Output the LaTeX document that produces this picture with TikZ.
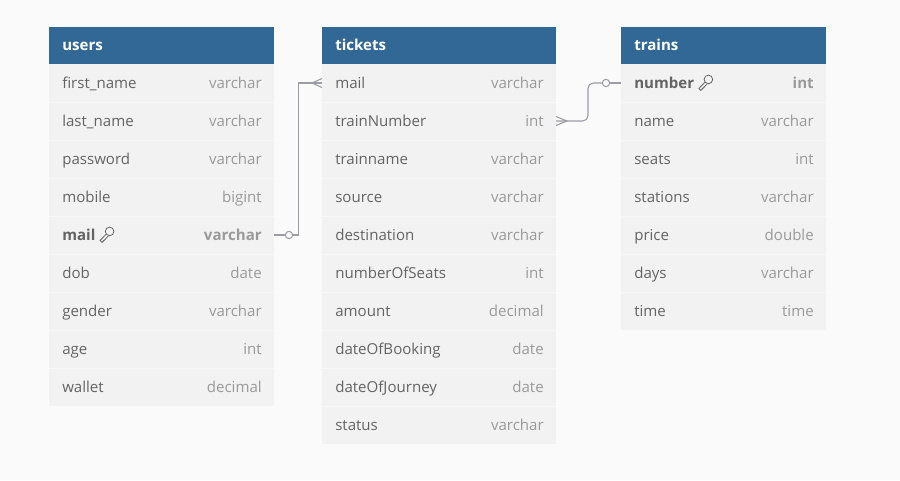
\documentclass[tikz,border=0pt]{standalone}
\usepackage{fontspec}
\setmainfont{Open Sans}
\usepackage{xcolor}
\usetikzlibrary{positioning}
\definecolor{hdrblue}{HTML}{326895}
\definecolor{rowgray}{HTML}{F2F2F2}
\definecolor{rowline}{HTML}{F7F7F7}
\definecolor{canvas}{HTML}{FAFAFA}
\definecolor{namegray}{HTML}{646464}
\definecolor{typegray}{HTML}{9A9A9A}
\definecolor{linegray}{HTML}{9C9CA4}

\tikzset{
  hdr/.style={anchor=mid west, inner sep=0, text=white, font=\fontsize{11.3}{13}\selectfont\bfseries},
  fld/.style={anchor=mid west, inner sep=0, text=namegray, font=\fontsize{11.3}{13}\selectfont},
  typ/.style={anchor=mid east, inner sep=0, text=typegray, font=\fontsize{11.3}{13}\selectfont},
  rel/.style={draw=linegray, line width=0.8pt},
  endpt/.style={circle, draw=linegray, fill=canvas, line width=0.8pt, inner sep=0, minimum size=5.5pt},
  keyglyph/.pic={
    \draw[namegray, line width=0.6pt] (14,-3.5) circle (4.3);
    \draw[namegray, line width=0.6pt] (10.6,-0.8) -- (4.5,5.5) -- (6.5,7.5) -- (8.2,5.8) -- (7.6,5.2)
        (8.2,5.8) -- (12.6,1.1);
  }
}

\begin{document}
\begin{tikzpicture}[x=0.75pt,y=-0.75pt]
    % Canvas
    \fill[canvas] (0,0) rectangle (900,480);
    \useasboundingbox (0,0) rectangle (900,480);

    % Table users
    \fill[rowgray] (49,64) rectangle (274,406);
    \fill[hdrblue] (49,27) rectangle (274,64);
    \node[hdr] (users) at (62,46.5) {users};
    \foreach \n/\t [count=\i] in {first\_name/varchar, last\_name/varchar, password/varchar,
        mobile/bigint, \textbf{mail}/\textbf{varchar}, dob/date, gender/varchar, age/int, wallet/decimal} {
        \node[fld] (users-\i) at (62,47+38*\i) {\n};
        \node[typ] (users-\i-t) at (262,47+38*\i) {\t};
        \ifnum\i>1 \draw[rowline] (49,26+38*\i) -- (274,26+38*\i); \fi
    }
    \pic at (users-5.east) {keyglyph};

    % Table tickets
    \fill[rowgray] (322,64) rectangle (556,444);
    \fill[hdrblue] (322,27) rectangle (556,64);
    \node[hdr] (tickets) at (335,46.5) {tickets};
    \foreach \n/\t [count=\i] in {mail/varchar, trainNumber/int, trainname/varchar, source/varchar,
        destination/varchar, numberOfSeats/int, amount/decimal, dateOfBooking/date,
        dateOfJourney/date, status/varchar} {
        \node[fld] (tickets-\i) at (335,47+38*\i) {\n};
        \node[typ] (tickets-\i-t) at (544,47+38*\i) {\t};
        \ifnum\i>1 \draw[rowline] (322,26+38*\i) -- (556,26+38*\i); \fi
    }

    % Table trains
    \fill[rowgray] (621,64) rectangle (826,330);
    \fill[hdrblue] (621,27) rectangle (826,64);
    \node[hdr] (trains) at (634,46.5) {trains};
    \foreach \n/\t [count=\i] in {\textbf{number}/\textbf{int}, name/varchar, seats/int,
        stations/varchar, price/double, days/varchar, time/time} {
        \node[fld] (trains-\i) at (634,47+38*\i) {\n};
        \node[typ] (trains-\i-t) at (814,47+38*\i) {\t};
        \ifnum\i>1 \draw[rowline] (621,26+38*\i) -- (826,26+38*\i); \fi
    }
    \pic at (trains-1.east) {keyglyph};

    % Edges of the linked rows
    \coordinate (users-mail-r) at (274,235);
    \coordinate (tickets-mail-l) at (322,83);
    \coordinate (tickets-train-r) at (556,121);
    \coordinate (trains-number-l) at (621,83);

    % users.mail -- tickets.mail
    \node[endpt] (one-mail) at (289,235) {};
    \draw[rel] (users-mail-r) -- (one-mail);
    \draw[rel] (one-mail) -- ++(9.5,0) |- (tickets-mail-l);
    \draw[rel] (tickets-mail-l) ++(0,-4.5) -- ++(-10,4.5) -- ++(10,4.5);

    % tickets.trainNumber -- trains.number
    \node[endpt] (one-number) at (606,83) {};
    \draw[rel, rounded corners=4pt] (tickets-train-r) -- ++(32,0) |- (one-number);
    \draw[rel] (one-number) -- (trains-number-l);
    \draw[rel] (tickets-train-r) ++(0,-4.5) -- ++(11,4.5) -- ++(-11,4.5);
\end{tikzpicture}
\end{document}
